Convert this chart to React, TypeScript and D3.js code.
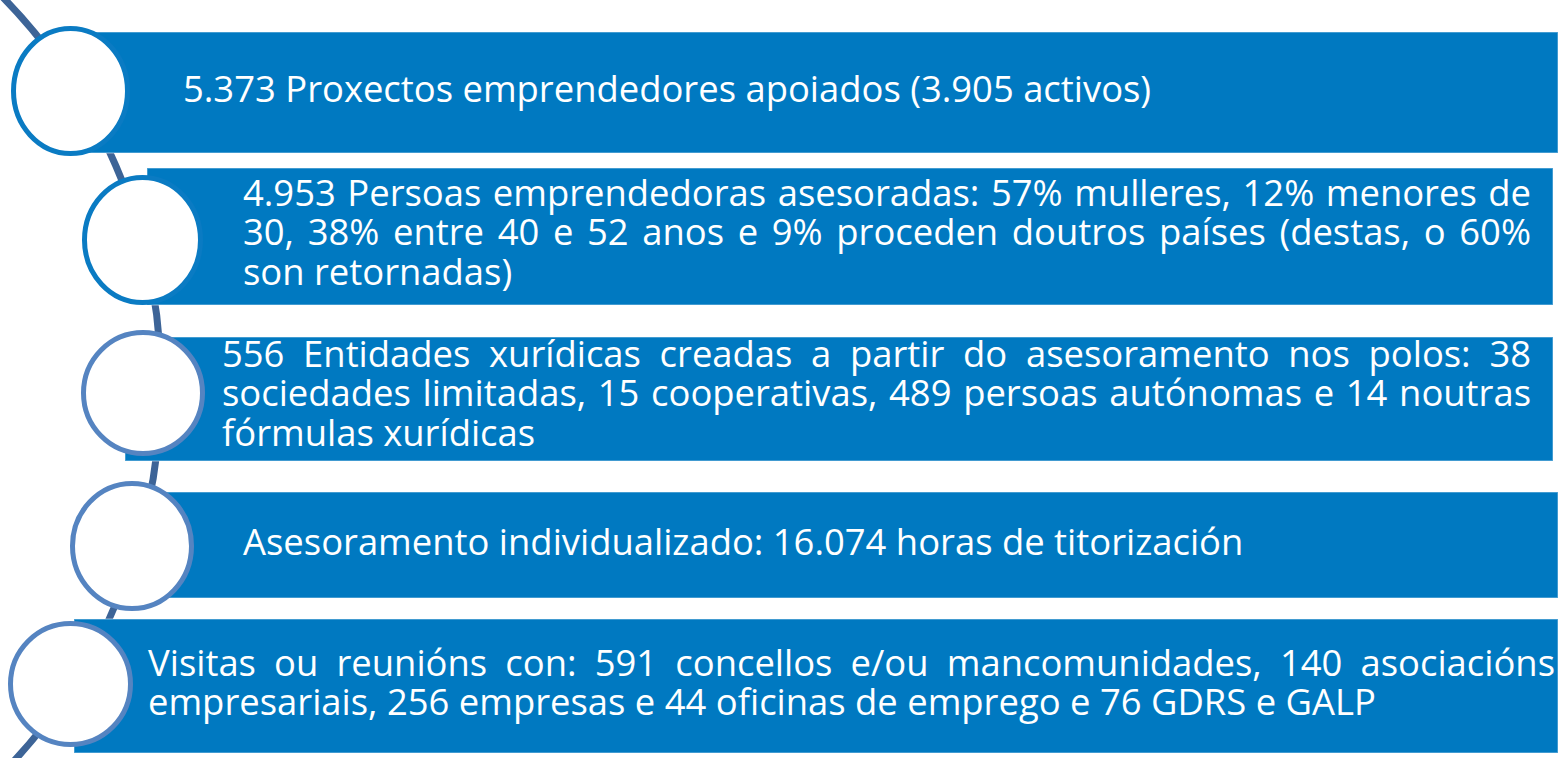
import React, { useMemo } from "react";
import * as d3 from "d3";

// ---- content ----
const item1Lines = ["5.373 Proxectos emprendedores apoiados (3.905 activos)"];
const item2Lines = [
  "4.953 Persoas emprendedoras asesoradas: 57% mulleres, 12% menores de",
  "30, 38% entre 40 e 52 anos e 9% proceden doutros países (destas, o 60%",
  "son retornadas)",
];
const item3Lines = [
  "556 Entidades xurídicas creadas a partir do asesoramento nos polos: 38",
  "sociedades limitadas, 15 cooperativas, 489  persoas autónomas e 14 noutras",
  "fórmulas xurídicas",
];
const item4Lines = ["Asesoramento individualizado: 16.074 horas de titorización"];
const item5Lines = [
  "Visitas ou reunións con: 591 concellos e/ou mancomunidades, 140 asociacións",
  "empresariais, 256 empresas e 44 oficinas de emprego e 76 GDRS e GALP",
];
const itemTexts = [item1Lines, item2Lines, item3Lines, item4Lines, item5Lines];
const itemJustified = [false, true, true, false, true];

// ---- layout (positions / styles) ----
const W = 1558;
const H = 758;
const FONT_SIZE = 36.4;
const FONT_FAMILY = "'Open Sans', 'Noto Sans', sans-serif";
const LINE_GAP = 39.3;
const BAR_COLOR = "#0079c1";
const ARC_COLOR = "#3d6497";

const barBoxes = [
  { x0: 72, x1: 1558, y0: 32, y1: 153 },
  { x0: 147, x1: 1553, y0: 168, y1: 305 },
  { x0: 125, x1: 1553, y0: 337, y1: 461 },
  { x0: 132, x1: 1558, y0: 492, y1: 598 },
  { x0: 74, x1: 1558, y0: 619, y1: 753 },
];
const circleShapes = [
  { cx: 70.5, cy: 91, rx: 57, ry: 62.5, stroke: "#0a7bc3" },
  { cx: 142.5, cy: 240, rx: 58, ry: 62.5, stroke: "#0a7bc3" },
  { cx: 143, cy: 393, rx: 59.5, ry: 60.5, stroke: "#5584c1" },
  { cx: 132, cy: 546, rx: 59.5, ry: 62.5, stroke: "#5584c1" },
  { cx: 70.5, cy: 684, rx: 60, ry: 60.5, stroke: "#5584c1" },
];
const textBoxes = [
  { x0: 183, x1: 1530, base: 102 },
  { x0: 243, x1: 1531, base: 206 },
  { x0: 222, x1: 1531, base: 367 },
  { x0: 243, x1: 1531, base: 555 },
  { x0: 148, x1: 1555, base: 676 },
];
const arcSpec = { peakX: 161, cy: 385, r: 554, yTop: -40, yBottom: 800, width: 7 };

function useMeasure() {
  return useMemo(() => {
    const canvas = document.createElement("canvas");
    const ctx = canvas.getContext("2d")!;
    ctx.font = `${FONT_SIZE}px ${FONT_FAMILY}`;
    return (s: string) => ctx.measureText(s).width;
  }, []);
}

export default function App() {
  const measure = useMeasure();

  const arcPath = useMemo(() => {
    const cx = arcSpec.peakX - arcSpec.r;
    const a0 = Math.asin((arcSpec.yTop - arcSpec.cy) / arcSpec.r);
    const a1 = Math.asin((arcSpec.yBottom - arcSpec.cy) / arcSpec.r);
    const p = d3.path();
    p.arc(cx, arcSpec.cy, arcSpec.r, a0, a1, false);
    return p.toString();
  }, []);

  const lineY = d3.scaleLinear().domain([0, 1]).range([0, LINE_GAP]);

  const renderLines = (idx: number) => {
    const lines = itemTexts[idx];
    const box = textBoxes[idx];
    const justified = itemJustified[idx];
    const spaceW = measure(" ");
    const out: React.ReactNode[] = [];
    lines.forEach((raw, li) => {
      const words = raw.split(/\s+/).filter((w) => w.length);
      const widths = words.map(measure);
      const y = box.base + lineY(li);
      const isLast = li === lines.length - 1;
      const gap =
        justified && !isLast && words.length > 1
          ? (box.x1 - box.x0 - d3.sum(widths)) / (words.length - 1)
          : spaceW;
      let x = box.x0;
      words.forEach((w, wi) => {
        out.push(
          <text key={`${li}-${wi}`} x={x} y={y}>
            {w}
          </text>
        );
        x += widths[wi] + gap;
      });
    });
    return out;
  };

  return (
    <svg
      width={W}
      height={H}
      viewBox={`0 0 ${W} ${H}`}
      style={{ position: "absolute", left: 0, top: 0, display: "block", background: "#fff" }}
    >
      <path d={arcPath} fill="none" stroke={ARC_COLOR} strokeWidth={arcSpec.width} strokeLinecap="round" />
      {barBoxes.map((b, i) => (
        <rect
          key={i}
          x={b.x0}
          y={b.y0}
          width={b.x1 - b.x0}
          height={b.y1 - b.y0}
          fill={BAR_COLOR}
          stroke="#ffffff"
          strokeOpacity={0.35}
          strokeWidth={1.5}
        />
      ))}
      {circleShapes.map((c, i) => (
        <ellipse key={i} cx={c.cx} cy={c.cy} rx={c.rx} ry={c.ry} fill="#ffffff" stroke={c.stroke} strokeWidth={5} />
      ))}
      <g fill="#ffffff" fontFamily={FONT_FAMILY} fontSize={FONT_SIZE}>
        {itemTexts.map((_, i) => (
          <g key={i}>{renderLines(i)}</g>
        ))}
      </g>
    </svg>
  );
}
